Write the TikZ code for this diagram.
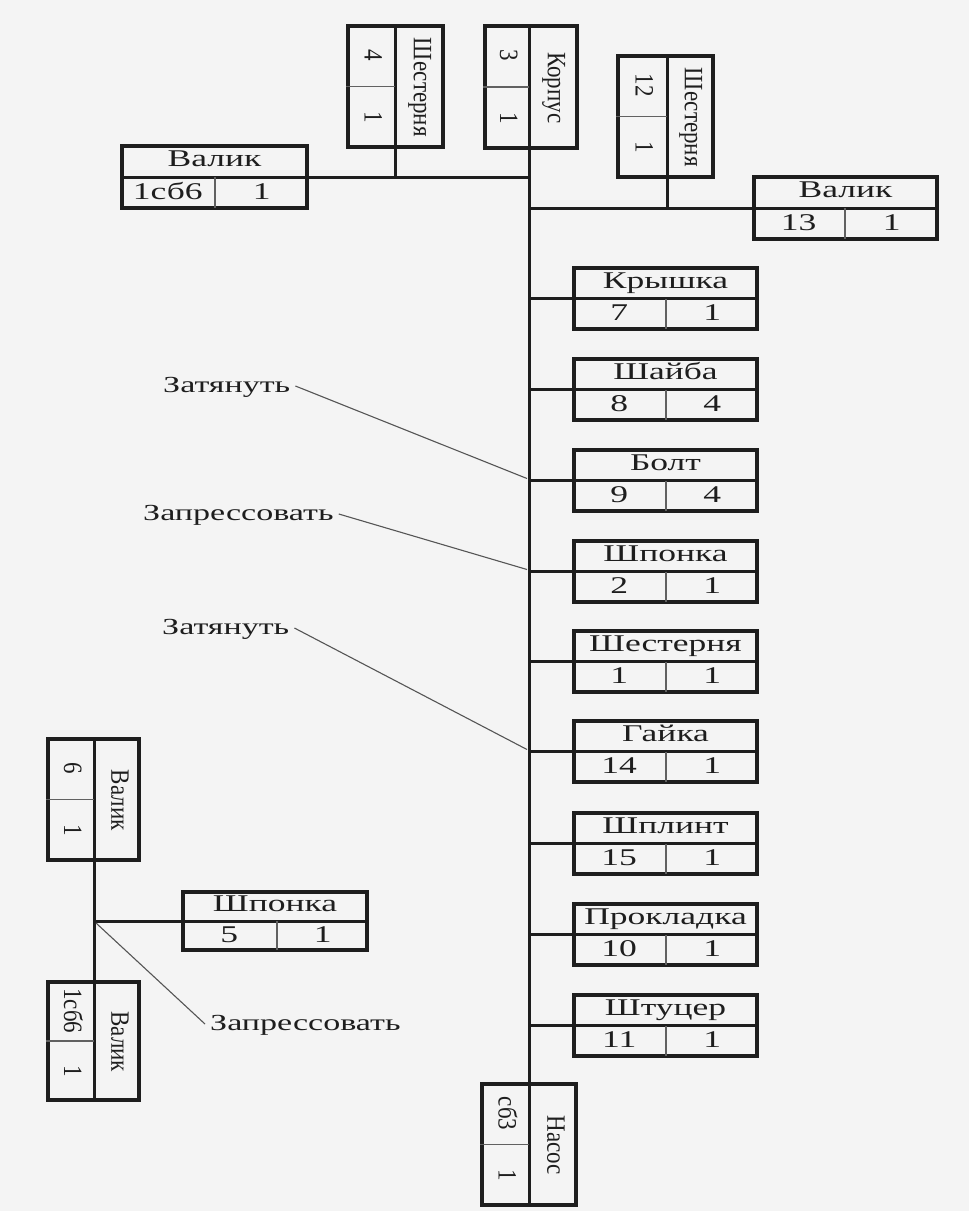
\documentclass[tikz,border=0pt]{standalone}
\usepackage{fontspec}
\setmainfont{Liberation Serif}
\newfontfamily\hfont[FakeStretch=1.48]{Liberation Serif}
\usetikzlibrary{fit,calc}
\definecolor{ink}{RGB}{30,30,30}
\definecolor{paper}{RGB}{244,244,244}
\definecolor{lead}{RGB}{85,85,85}
\tikzset{
  box/.style={draw=ink, line width=3.2pt, inner sep=0pt},
  thickdiv/.style={draw=ink, line width=3pt},
  thindiv/.style={draw=ink!70, line width=1.4pt},
  link/.style={draw=ink, line width=3pt},
  leader/.style={draw=lead, line width=1.1pt},
  htext/.style={font=\hfont\fontsize{24}{24}\selectfont, inner sep=0pt, text height=14pt, text depth=2pt, text=ink},
  vtext/.style={font=\fontsize{23}{23}\selectfont, rotate=-90, inner sep=0pt, text height=14pt, text depth=2pt, text=ink},
  lbl/.style={font=\hfont\fontsize{23}{23}\selectfont, inner xsep=5pt, inner ysep=0pt, text height=14pt, text depth=2pt, text=ink},
}
% id L T R B S name num qty
\newcommand\partH[9]{%
  \node[box, fit={(#2,#3)(#4,#5)}] (#1) {};
  \draw[thickdiv] (#1.west) -- (#1.east);
  \coordinate (#1-s) at (#6,#5);
  \draw[thindiv] (#1-s) -- (#1-s |- #1.center);
  \node[htext] at ($(#1.north)!0.5!(#1.center)$) {#7};
  \node[htext] at ($(#1.south west)!0.5!(#1-s |- #1.center)$) {#8};
  \node[htext] at ($(#1.south east)!0.5!(#1-s |- #1.center)$) {#9};
}
\newcommand\partV[9]{%
  \node[box, fit={(#2,#3)(#4,#5)}] (#1) {};
  \coordinate (#1-s) at (#6,#5);
  \coordinate (#1-t) at (#6,#3);
  \draw[thickdiv] (#1-t) -- (#1-s);
  \draw[thindiv] (#1.west) -- (#1.center -| #1-s);
  \node[vtext] at ($(#1-t)!0.5!(#1.south east)$) {\scalebox{1}[1.15]{#7}};
  \node[vtext] at ($(#1.north west)!0.5!(#1.center -| #1-s)$) {\scalebox{1}[1.15]{#8}};
  \node[vtext] at ($(#1.south west)!0.5!(#1.center -| #1-s)$) {\scalebox{1}[1.15]{#9}};
}
\begin{document}
\begin{tikzpicture}[x=1pt,y=-1pt]
  \fill[paper] (0,0) rectangle (969,1211);
  \useasboundingbox (0,0) rectangle (969,1211);

  % top vertical boxes
  \partV{sh4}{348}{26}{443}{147}{395}{Шестерня}{4}{1}
  \partV{korp}{485}{26}{577}{148}{529}{Корпус}{3}{1}
  \partV{sh12}{618}{56}{713}{177}{667}{Шестерня}{12}{1}
  \partH{v1}{122}{146}{307}{208}{215}{Валик}{1сб6}{1}
  \partH{v13}{754}{177}{937}{239}{845}{Валик}{13}{1}

  % right column
  \partH{kr}{574}{268}{757}{329}{666}{Крышка}{7}{1}
  \partH{sha}{574}{359}{757}{420}{666}{Шайба}{8}{4}
  \partH{bolt}{574}{450}{757}{511}{666}{Болт}{9}{4}
  \partH{shp}{574}{541}{757}{602}{666}{Шпонка}{2}{1}
  \partH{shs}{574}{631}{757}{692}{666}{Шестерня}{1}{1}
  \partH{gai}{574}{721}{757}{782}{666}{Гайка}{14}{1}
  \partH{spl}{574}{813}{757}{874}{666}{Шплинт}{15}{1}
  \partH{pro}{574}{904}{757}{965}{666}{Прокладка}{10}{1}
  \partH{sht}{574}{995}{757}{1056}{666}{Штуцер}{11}{1}

  % bottom assembly
  \partV{nas}{482}{1084}{576}{1205}{529}{Насос}{сб3}{1}

  % left sub-assembly
  \partV{v6}{48}{739}{139}{860}{94}{Валик}{6}{1}
  \partH{shp5}{183}{892}{367}{950}{277}{Шпонка}{5}{1}
  \partV{v1b}{48}{982}{139}{1100}{94}{Валик}{1сб6}{1}

  % trunk and branches
  \draw[link] (korp-s) -- (nas-t);
  \draw[link] (v1.east) -- (v1.east -| korp-s);
  \draw[link] (sh4-s) -- (sh4-s |- v1.east);
  \draw[link] (sh12-s) -- (sh12-s |- v13.west);
  \draw[link] (v13.west) -- (v13.west -| korp-s);
  \foreach \b in {kr,sha,bolt,shp,shs,gai,spl,pro,sht}
    \draw[link] (\b.west) -- (\b.west -| korp-s);
  \draw[link] (v6-s) -- (v1b-t);
  \draw[link] (shp5.west) -- (shp5.west -| v6-s);

  % operation labels
  \node[lbl, anchor=west] (z1) at (158,386) {Затянуть};
  \node[lbl, anchor=west] (z2) at (138,514) {Запрессовать};
  \node[lbl, anchor=west] (z3) at (157,628) {Затянуть};
  \node[lbl, anchor=west] (z4) at (205,1024) {Запрессовать};
  \coordinate (j1) at ($(bolt.west -| korp-s)+(-2,-2)$);
  \coordinate (j2) at ($(shp.west -| korp-s)+(-2,-2)$);
  \coordinate (j3) at ($(gai.west -| korp-s)+(-2,-2)$);
  \coordinate (j4) at ($(shp5.west -| v6-s)+(2,2)$);
  \draw[leader] (z1.east) -- (j1);
  \draw[leader] (z2.east) -- (j2);
  \draw[leader] (z3.east) -- (j3);
  \draw[leader] (j4) -- (z4.west);
\end{tikzpicture}
\end{document}
